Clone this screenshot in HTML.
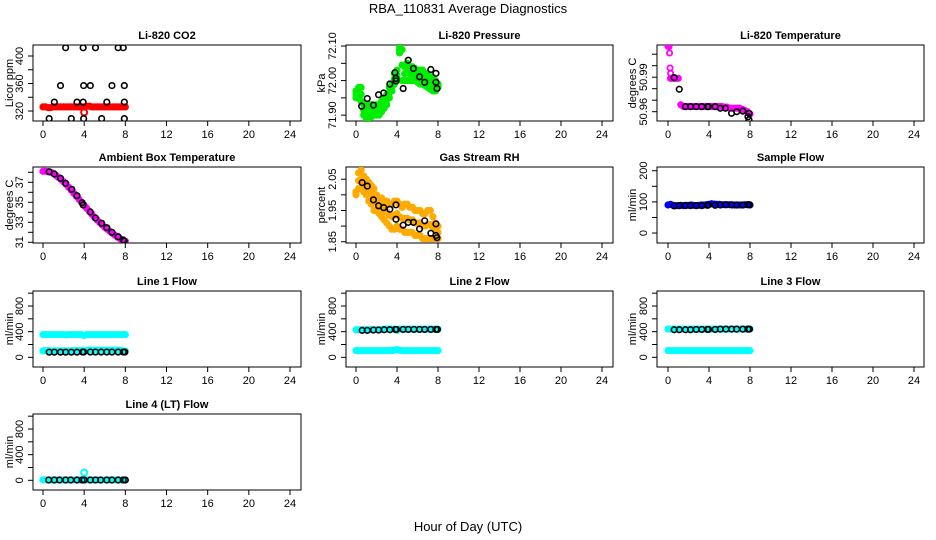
<!DOCTYPE html>
<html><head><meta charset="utf-8"><style>
html,body{margin:0;padding:0;background:#fff;}
svg{display:block;font-family:"Liberation Sans",sans-serif;}
</style></head><body>
<svg id="chart" width="936" height="540" viewBox="0 0 936 540" xmlns="http://www.w3.org/2000/svg">
<rect x="0" y="0" width="936" height="540" fill="#fff"/>
<text x="468" y="13" font-size="13" text-anchor="middle">RBA_110831  Average Diagnostics</text>
<text x="468" y="531" font-size="13" text-anchor="middle">Hour of Day (UTC)</text>
</svg>
<script>
// shared time grid for dense instrument samples
const tc = [0,0.25,0.5,0.75,1,1.25,1.5,1.75,2,2.25,2.5,2.75,3,3.25,3.5,3.75,4,4.25,4.5,4.75,5,5.25,5.5,5.75,6,6.25,6.5,6.75,7,7.25,7.5,7.75,8];
const xTicks = [0,4,8,12,16,20,24];

// CO2
const co2Red = [326,326,325,325,326,326,326,326,326,326,326,326,326,326,326,326,326,327,327,326,326,326,326,326,326,326,326,326,326,326,326,326,326];
const co2RedOutX = [4.0];
const co2RedOutY = [318];
const co2BlackX = [0.6,1.1,1.7,2.2,2.75,3.3,3.9,3.95,3.9,3.95,4.6,5.1,5.7,6.2,6.7,7.3,7.8,7.9,7.9,7.9];
const co2BlackY = [309,333,357,412,309,333,412,357,333,309,357,412,309,333,357,412,412,357,333,309];

// Pressure
const presHi = [71.97,71.98,71.98,71.93,71.925,71.93,71.93,71.925,71.93,71.93,71.94,71.95,71.96,71.98,71.99,72.02,72.03,72.10,72.09,72.04,72.05,72.04,72.04,72.035,72.03,72.03,72.03,72.02,72.02,72.01,72.01,72.00,71.99];
const presLo = [71.95,71.95,71.94,71.90,71.89,71.89,71.895,71.90,71.90,71.90,71.91,71.92,71.93,71.95,71.97,71.99,72.00,72.08,72.00,72.00,72.00,72.00,72.00,72.00,71.995,71.99,71.99,71.985,71.98,71.975,71.97,71.97,71.98];
const presBlackX = [0.55,1.1,1.7,2.2,2.7,3.3,3.8,3.9,3.9,4.6,5.1,5.6,6.2,6.7,7.3,7.8,7.8,7.9];
const presBlackY = [71.926,71.948,71.929,71.959,71.964,71.990,72.023,72.006,71.999,71.977,72.059,72.035,72.011,71.995,72.032,72.021,71.995,71.977];

// Li-820 temperature
const tempMag = [51.017,50.989,50.989,50.989,50.989,50.966,50.9645,50.9645,50.9645,50.9645,50.9645,50.9645,50.9645,50.9645,50.9645,50.9645,50.9645,50.9645,50.9645,50.9645,50.9645,50.9645,50.964,50.964,50.963,50.963,50.963,50.963,50.963,50.962,50.961,50.960,50.958];
const tempMagExtraX = [0.1,0.15,0.2,0.25];
const tempMagExtraY = [51.0166,51.011,50.998,50.9934];
const tempBlackX = [0.6,1.1,1.7,2.2,2.75,3.3,3.85,3.95,4.6,5.1,5.6,6.2,6.7,7.3,7.8,7.9,7.9];
const tempBlackY = [50.9896,50.9795,50.9644,50.9644,50.9644,50.9644,50.9644,50.9644,50.9644,50.963,50.963,50.9586,50.960,50.9605,50.9556,50.9586,50.953];

// Ambient box temperature
const ambMag = [38.1,38.1,38.05,38.0,37.9,37.7,37.5,37.3,37.05,36.8,36.5,36.2,35.9,35.6,35.3,35.0,34.7,34.4,34.1,33.8,33.5,33.25,33.0,32.75,32.5,32.3,32.1,31.9,31.7,31.5,31.35,31.2,31.1];
const ambBlackX = [0.6,1.1,1.7,2.2,2.8,3.3,3.8,3.9,4.6,5.1,5.7,6.2,6.7,7.3,7.8,7.9];
const ambBlackY = [38.06,37.83,37.4,36.9,36.3,35.66,34.96,34.73,34.03,33.43,32.9,32.46,32.0,31.56,31.23,31.13];

// Gas stream RH
const rhHi = [2.01,2.07,2.08,2.06,2.05,2.04,2.03,2.02,2.00,1.99,1.99,1.98,1.98,1.97,1.97,1.98,1.98,1.97,1.96,1.97,1.97,1.96,1.96,1.95,1.95,1.95,1.94,1.94,1.95,1.95,1.93,1.91,1.90];
const rhLo = [2.00,2.02,2.02,2.01,2.00,1.98,1.97,1.95,1.95,1.94,1.93,1.92,1.91,1.90,1.89,1.89,1.90,1.89,1.89,1.88,1.88,1.88,1.88,1.87,1.87,1.87,1.86,1.86,1.86,1.86,1.86,1.86,1.86];
const rhBlackX = [0.6,1.1,1.7,2.2,2.7,3.3,3.9,3.9,4.6,5.1,5.6,6.2,6.7,7.3,7.8,7.8,7.9];
const rhBlackY = [2.039,2.028,1.984,1.965,1.959,1.954,1.968,1.922,1.903,1.912,1.912,1.891,1.917,1.877,1.907,1.870,1.863];

// Sample flow
const sfBlue = [90,92,89,88,88,89,88,89,89,90,89,88,89,90,90,91,92,94,93,92,92,91,91,91,91,90,90,90,90,90,91,91,90];
const sfBlackX = [0.6,1.1,1.7,2.2,2.75,3.3,3.85,3.95,4.6,5.1,5.65,6.2,6.7,7.3,7.8,7.95];
const sfBlackY = [87,88,88,88,88,88,89,90,89,90,91,91,90,90,91,91];

// Line flows
const l1CyanHi = [355,355,355,355,355,355,355,355,355,350,355,355,355,355,355,355,340,355,355,355,355,355,355,355,355,355,355,355,355,355,355,355,355];
const l1CyanLo = [100,105,105,100,100,100,100,100,100,100,100,100,105,105,105,105,100,110,110,110,110,110,110,110,110,110,110,110,110,110,110,100,95];
const l1BlackX = [0.6,1.1,1.7,2.2,2.75,3.3,3.85,3.95,4.6,5.1,5.65,6.2,6.7,7.3,7.8,7.95];
const l1BlackY = [80,80,80,80,80,80,82,82,82,82,82,82,82,82,82,82];

const l2CyanHi = [430,430,430,430,430,430,435,435,435,435,435,440,440,440,440,440,420,440,440,440,440,440,440,440,440,440,440,440,440,440,440,440,440];
const l2CyanLo = [105,105,105,105,105,105,105,105,105,105,105,105,105,105,105,110,120,110,105,105,105,105,105,105,105,105,105,105,105,105,105,105,105];
const l2BlackX = [0.6,1.1,1.7,2.2,2.75,3.3,3.85,3.95,4.6,5.1,5.65,6.2,6.7,7.3,7.8,7.95];
const l2BlackY = [420,420,425,425,430,430,435,435,435,435,435,435,435,435,435,435];

const l3CyanHi = [440,440,440,440,440,440,440,440,440,440,440,440,440,440,440,440,440,440,440,440,440,440,440,440,440,440,440,440,440,440,440,440,440];
const l3CyanLo = [105,105,105,105,105,105,105,105,105,105,105,105,105,105,105,105,105,105,105,105,105,105,105,105,105,105,105,105,105,105,105,105,105];
const l3BlackX = [0.6,1.1,1.7,2.2,2.75,3.3,3.85,3.95,4.6,5.1,5.65,6.2,6.7,7.3,7.8,7.95];
const l3BlackY = [430,430,430,430,435,435,435,435,435,440,440,440,440,440,440,440];

const l4Cyan = [8,8,5,5,5,5,5,5,5,5,5,5,5,5,5,5,5,5,5,5,5,5,5,5,5,5,5,5,5,5,5,5,5];
const l4CyanOutX = [4.0];
const l4CyanOutY = [120];
const l4BlackX = [0.55,1.1,1.6,2.2,2.7,3.3,3.8,4.0,4.6,5.1,5.6,6.2,6.7,7.3,7.8,8.0];
const l4BlackY = [5,5,5,5,5,5,5,5,5,5,5,5,5,5,5,5];

const svg = document.getElementById('chart');
const NS = 'http://www.w3.org/2000/svg';
function mk(tag, attrs, parent){
  const e = document.createElementNS(NS, tag);
  for (const k in attrs) e.setAttribute(k, attrs[k]);
  (parent||svg).appendChild(e);
  return e;
}
const cols = [{l:33,r:301,x0:43,x24:290,yl:9},{l:346,r:613,x0:356,x24:602,yl:321},{l:657,r:924,x0:668,x24:914,yl:632}];
const rows = [45,167,291,414];
const H = 76;

function panel(opts){
  const c = cols[opts.col], top = rows[opts.row], bot = top + H;
  const g = mk('g', {});
  
  
  const sx = v => c.x0 + (c.x24 - c.x0) * v / 24;
  const sy = v => bot - (v - opts.dom[0]) / (opts.dom[1] - opts.dom[0]) * H;
  const box = mk('rect', {x:c.l, y:top, width:c.r-c.l, height:H, fill:'none', stroke:'#000', 'stroke-width':1}, g);
  
  
  const t = mk('text', {x:(c.l+c.r)/2, y:top-6, 'font-size':11, 'font-weight':'bold', 'text-anchor':'middle'}, g);
  t.textContent = opts.title;
  
  
  xTicks.forEach(v => {
    mk('line', {x1:sx(v), x2:sx(v), y1:bot, y2:bot+5, stroke:'#000'}, g);
    const tl = mk('text', {x:sx(v), y:bot+17, 'font-size':11, 'text-anchor':'middle'}, g);
    tl.textContent = v;
    
    
  });
  opts.yticks.forEach(v => {
    mk('line', {x1:c.l-5, x2:c.l, y1:sy(v), y2:sy(v), stroke:'#000'}, g);
  });
  opts.ylabels.forEach(v => {
    const yl = mk('text', {x:0, y:0, 'font-size':11, 'text-anchor':'middle', transform:`translate(${c.l-10},${sy(v)}) rotate(-90)`}, g);
    yl.textContent = opts.fmt ? opts.fmt(v) : v;
    
    
  });
  const at = mk('text', {x:0, y:0, 'font-size':11, 'text-anchor':'middle', transform:`translate(${c.yl+4},${top+H/2}) rotate(-90)`}, g);
  at.textContent = opts.ylab;
  
  
  const clipId = 'clip' + opts.row + opts.col;
  const cp = mk('clipPath', {id:clipId}, g);
  mk('rect', {x:c.l, y:top, width:c.r-c.l, height:H}, cp);
  const pg = mk('g', {'clip-path':`url(#${clipId})`}, g);
  (opts.series||[]).forEach(s => {
    s.x.forEach((xv, i) => {
      const p = mk('circle', {cx:sx(xv), cy:sy(s.y[i]), r:s.r||2.6, fill:s.fill||'none', stroke:s.color, 'stroke-width':s.w||1.5}, pg);
      
      
    });
  });
}
function mid(a, b){ return a.map((v,i)=>(v+b[i])/2); }
function dense(name, color, arrs){
  const out = [];
  arrs.forEach(a => out.push({name:name, color:color, x:tc, y:a, r:2.6, w:2, fill:color}));
  return out;
}
const BLK = (name,x,y)=>({name:name, color:'#000', x:x, y:y, r:2.8, w:1.6});
const fmt2 = v => v.toFixed(2);

panel({name:'co2-panel', row:0, col:0, title:'Li-820 CO2', ylab:'Licor ppm', dom:[305.5,416],
  yticks:[320,340,360,380,400], ylabels:[320,360,400],
  series:[...dense('co2-point','#ff0000',[co2Red]), {name:'co2-point', color:'#ff0000', x:co2RedOutX, y:co2RedOutY, r:3, w:2}, BLK('co2-hourly-mean',co2BlackX,co2BlackY)]});
panel({name:'pressure-panel', row:0, col:1, title:'Li-820 Pressure', ylab:'kPa', dom:[71.883,72.103],
  yticks:[71.90,71.95,72.00,72.05,72.10], ylabels:[71.90,72.00,72.10], fmt:fmt2,
  series:[...dense('pressure-point','#00ee00',[presHi,presLo,mid(presHi,presLo)]), BLK('pressure-hourly-mean',presBlackX,presBlackY)]});
panel({name:'li820-temperature-panel', row:0, col:2, title:'Li-820 Temperature', ylab:'degrees C', dom:[50.9519,51.018],
  yticks:[50.96,50.97,50.98,50.99,51.00,51.01], ylabels:[50.96,50.99], fmt:fmt2,
  series:[...dense('temperature-point','#ff00ff',[tempMag]), {name:'temperature-point', color:'#ff00ff', x:tempMagExtraX, y:tempMagExtraY, r:2.6, w:1.8}, BLK('temperature-hourly-mean',tempBlackX,tempBlackY)]});
panel({name:'ambient-temperature-panel', row:1, col:0, title:'Ambient Box Temperature', ylab:'degrees C', dom:[30.93,38.53],
  yticks:[31,32,33,34,35,36,37,38], ylabels:[31,33,35,37],
  series:[...dense('ambient-point','#ff00ff',[ambMag]), BLK('ambient-hourly-mean',ambBlackX,ambBlackY)]});
panel({name:'rh-panel', row:1, col:1, title:'Gas Stream RH', ylab:'percent', dom:[1.846,2.089],
  yticks:[1.85,1.90,1.95,2.00,2.05], ylabels:[1.85,1.95,2.05], fmt:fmt2,
  series:[...dense('rh-point','#ffaa00',[rhHi,rhLo,mid(rhHi,rhLo)]), BLK('rh-hourly-mean',rhBlackX,rhBlackY)]});
panel({name:'sample-flow-panel', row:1, col:2, title:'Sample Flow', ylab:'ml/min', dom:[-32,212],
  yticks:[0,50,100,150,200], ylabels:[0,100,200],
  series:[...dense('sample-flow-point','#0000ff',[sfBlue]), BLK('sample-flow-hourly-mean',sfBlackX,sfBlackY)]});
const flowTicks = [0,200,400,600,800,1000];
panel({name:'line1-flow-panel', row:2, col:0, title:'Line 1 Flow', ylab:'ml/min', dom:[-151,1034],
  yticks:flowTicks, ylabels:[0,400,800],
  series:[...dense('line1-flow-point','#00ffff',[l1CyanHi,l1CyanLo]), BLK('line1-hourly-mean',l1BlackX,l1BlackY)]});
panel({name:'line2-flow-panel', row:2, col:1, title:'Line 2 Flow', ylab:'ml/min', dom:[-151,1034],
  yticks:flowTicks, ylabels:[0,400,800],
  series:[...dense('line2-flow-point','#00ffff',[l2CyanHi,l2CyanLo]), BLK('line2-hourly-mean',l2BlackX,l2BlackY)]});
panel({name:'line3-flow-panel', row:2, col:2, title:'Line 3 Flow', ylab:'ml/min', dom:[-151,1034],
  yticks:flowTicks, ylabels:[0,400,800],
  series:[...dense('line3-flow-point','#00ffff',[l3CyanHi,l3CyanLo]), BLK('line3-hourly-mean',l3BlackX,l3BlackY)]});
panel({name:'line4-flow-panel', row:3, col:0, title:'Line 4 (LT) Flow', ylab:'ml/min', dom:[-151,1034],
  yticks:flowTicks, ylabels:[0,400,800],
  series:[...dense('line4-flow-point','#00ffff',[l4Cyan]), {name:'line4-flow-point', color:'#00ffff', x:l4CyanOutX, y:l4CyanOutY, r:3, w:2}, BLK('line4-hourly-mean',l4BlackX,l4BlackY)]});
</script>
</body></html>
